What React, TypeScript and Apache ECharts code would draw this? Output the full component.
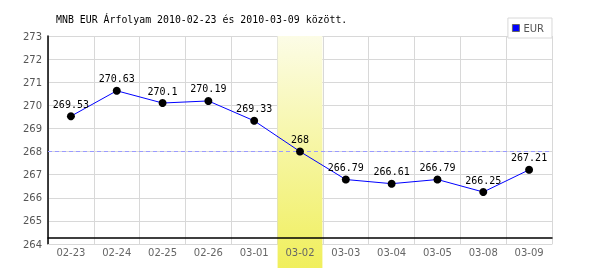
import React, { useEffect, useRef } from "react";
import * as echarts from "echarts";

const categories = ["02-23", "02-24", "02-25", "02-26", "03-01", "03-02", "03-03", "03-04", "03-05", "03-08", "03-09"];
const values = [269.53, 270.63, 270.1, 270.19, 269.33, 268, 266.79, 266.61, 266.79, 266.25, 267.21];
const yMin = 264;
const yMax = 273;
const refLine = 268;
const highlighted = "03-02";
const seriesName = "EUR";
const title = "MNB EUR Árfolyam 2010-02-23 és 2010-03-09 között.";

export default function App() {
  const ref = useRef<HTMLDivElement>(null);
  useEffect(() => {
    if (!ref.current) return;
    const chart = echarts.init(ref.current, null, { renderer: "svg" });
    const mono = "'DejaVu Sans Mono', 'Liberation Mono', monospace";
    const sans = "'DejaVu Sans', Verdana, sans-serif";
    chart.setOption({
      animation: false,
      title: {
        text: title,
        left: 51,
        top: 9,
        textStyle: { fontFamily: mono, fontSize: 9.9, fontWeight: "normal", color: "#000" },
      },
      legend: {
        right: 48,
        top: 18,
        orient: "vertical",
        padding: [5, 8, 5, 4],
        borderColor: "#d8d8d8",
        borderWidth: 1,
        backgroundColor: "#fff",
        itemWidth: 7,
        itemHeight: 7,
        itemGap: 4,
        icon: "rect",
        textStyle: { fontFamily: sans, fontSize: 10, color: "#555", padding: [0, 0, 0, -1] },
        data: [{ name: seriesName, itemStyle: { color: "#0000ff", borderColor: "#666", borderWidth: 1 } }],
      },
      grid: { left: 48, right: 48, top: 36, bottom: 26 },
      xAxis: [
        {
          type: "category",
          data: categories,
          boundaryGap: true,
          z: 0,
          axisLine: { lineStyle: { color: "#d8d8d8" } },
          axisTick: { show: false },
          axisLabel: { show: false },
          splitLine: { show: true, lineStyle: { color: "#d8d8d8" } },
        },
        {
          type: "category",
          data: categories,
          position: "bottom",
          offset: -6,
          z: 10,
          axisLine: { lineStyle: { color: "#000", width: 1.5 } },
          axisTick: { show: false },
          axisLabel: { fontFamily: sans, fontSize: 10, color: "#666", margin: 9 },
          splitLine: { show: false },
        },
      ],
      yAxis: {
        type: "value",
        min: yMin,
        max: yMax,
        interval: 1,
        axisLine: { show: true, lineStyle: { color: "#000", width: 1.5 } },
        axisTick: { show: false },
        axisLabel: { fontFamily: sans, fontSize: 10, color: "#555", margin: 6 },
        splitLine: { show: true, lineStyle: { color: "#d8d8d8" } },
      },
      series: [
        {
          name: seriesName,
          type: "line",
          data: values,
          symbol: "circle",
          symbolSize: 8,
          z: 5,
          lineStyle: { color: "#0000ff", width: 1 },
          itemStyle: { color: "#000" },
          label: {
            show: true,
            position: "top",
            distance: 3,
            fontFamily: mono,
            fontSize: 10,
            color: "#000",
          },
          markLine: {
            silent: true,
            symbol: "none",
            label: { show: false },
            lineStyle: { color: "#9a9aff", type: [4, 3], width: 1 },
            data: [{ yAxis: refLine }],
          },
        },
      ],
    });
    const idx = categories.indexOf(highlighted);
    const c0 = chart.convertToPixel({ xAxisIndex: 0 }, 0) as number;
    const c1 = chart.convertToPixel({ xAxisIndex: 0 }, 1) as number;
    const bw = c1 - c0;
    const cx = chart.convertToPixel({ xAxisIndex: 0 }, idx) as number;
    const yTop = chart.convertToPixel({ yAxisIndex: 0 }, yMax) as number;
    chart.setOption({
      graphic: [
        {
          type: "rect",
          z: 1,
          silent: true,
          shape: { x: cx - bw / 2 + 0.5, y: yTop, width: bw - 1, height: 270 - yTop - 2 },
          style: {
            fill: new echarts.graphic.LinearGradient(0, 0, 0, 1, [
              { offset: 0, color: "#fcfce6" },
              { offset: 1, color: "#f0ef5c" },
            ]),
          },
        },
      ],
    });
    return () => chart.dispose();
  }, []);
  return <div ref={ref} style={{ position: "fixed", left: 0, top: 0, width: 600, height: 270 }} />;
}
